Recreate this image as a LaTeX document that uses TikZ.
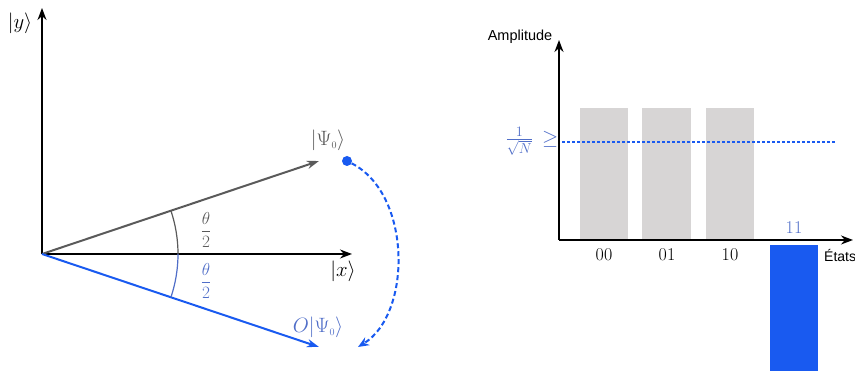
\documentclass[tikz,border=0pt]{standalone}
\usepackage{fontspec}
\newfontfamily\sanslabel{Liberation Sans}
\usetikzlibrary{arrows.meta}
\definecolor{vecgray}{RGB}{90,90,90}
\definecolor{qblue}{RGB}{25,90,240}
\definecolor{lblblue}{RGB}{80,110,200}
\definecolor{bargray}{RGB}{215,213,213}

\begin{document}
\begin{tikzpicture}[x=1pt,y=1pt]
    \tikzset{axis/.style = {line width=1.6pt,-{Stealth[length=12pt,width=9pt]}}}
    \tikzset{vec/.style = {line width=2pt,-{Stealth[length=12pt,width=8pt]}}}
    \tikzset{ket/.style = {font=\fontsize{20}{24}\selectfont,inner sep=1pt}}
    \tikzset{lbl/.style = {font=\fontsize{18}{21}\selectfont,inner sep=1pt}}
    \tikzset{bar/.style = {fill=bargray,draw=none}}
    \useasboundingbox (0,0) rectangle (855,374);
    % left: rotation of the state
    \coordinate (o) at (42,120); \coordinate (ytip) at (42,366);
    \coordinate (xtip) at (352,120); \coordinate (psi) at (319,213);
    \coordinate (opsi) at (319,27); \coordinate (back) at (358,27);
    \draw[axis] (o) -- (ytip); \draw[axis] (o) -- (xtip);
    \draw[vec,vecgray] (o) -- (psi); \draw[vec,qblue] (o) -- (opsi);
    \draw[vecgray,line width=1.2pt] (178,120) arc[start angle=0,end angle=18.5,radius=136pt];
    \draw[lblblue,line width=1.2pt] (178,120) arc[start angle=0,end angle=-18.5,radius=136pt];
    \node[ket] (ky) at (20,351) {$|y\rangle$};
    \node[ket] (kx) at (343,103) {$|x\rangle$};
    \node[ket,vecgray] (kpsi) at (328,234) {$|\Psi_{\scriptscriptstyle 0}\rangle$};
    \node[ket,lblblue] (kopsi) at (318,47) {$O|\Psi_{\scriptscriptstyle 0}\rangle$};
    \node[lbl,vecgray,font=\fontsize{17}{20}\selectfont] (th1) at (206,144) {$\displaystyle\frac{\theta}{2}$};
    \node[lbl,lblblue,font=\fontsize{17}{20}\selectfont] (th2) at (206,93) {$\displaystyle\frac{\theta}{2}$};
    \node[circle,fill=qblue,inner sep=0pt,minimum size=10pt] (dot) at (347,213) {};
    \draw[qblue,line width=2pt,dash pattern=on 5pt off 3pt,-{Stealth[length=11pt,width=9pt]}]
    (dot) .. controls (412,180) and (412,60) .. (back);
    % right: amplitudes
    \coordinate (a0) at (559,134); \coordinate (atop) at (559,334);
    \coordinate (aright) at (853,134);
    \fill[bar] (580,134) rectangle (628,266); \fill[bar] (642,134) rectangle (691,266);
    \fill[bar] (706,134) rectangle (754,266); \fill[qblue] (770,129) rectangle (818,3);
    \coordinate (m0) at (562,232); \coordinate (m1) at (835,232);
    \draw[qblue,line width=1.2pt,dash pattern=on 3pt off 2pt] (m0) -- (m1);
    \draw[axis] (a0) -- (atop); \draw[axis] (a0) -- (aright);
    \node[font=\sanslabel\fontsize{14.5}{17}\selectfont] (amp) at (520,337) {Amplitude};
    \node[font=\sanslabel\fontsize{14}{17}\selectfont,anchor=west,inner sep=0pt] (etats) at (824,118) {États};
    \node[lbl,lblblue,font=\fontsize{20}{22}\selectfont] (mean) at (532,233) {$\frac{1}{\sqrt{N}}\,\geq$};
    \node[lbl] (s00) at (604,119) {00}; \node[lbl] (s01) at (667,119) {01};
    \node[lbl] (s10) at (730,119) {10}; \node[lbl,lblblue] (s11) at (794,146) {11};
  \end{tikzpicture}
\end{document}
